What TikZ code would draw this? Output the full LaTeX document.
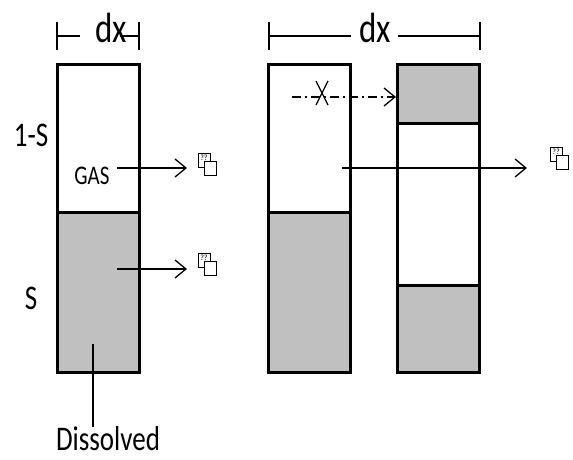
\documentclass[tikz,border=0pt]{standalone}
\usepackage{fontspec}
\setmainfont{Carlito}
\usetikzlibrary{arrows.meta}
\definecolor{phase}{HTML}{C0C0C0}
\newcommand{\tall}[1]{\scalebox{1}[1.28]{#1}}
\tikzset{
  wall/.style={line width=3pt, line cap=rect},
  thin/.style={line width=1.3pt},
  flow/.style={line width=1.3pt, -{Straight Barb[length=11pt,width=18pt,line width=1.3pt]}},
  lbl/.style={inner sep=0pt, anchor=base, font=\fontsize{27}{29}\selectfont},
  dimlbl/.style={inner sep=0pt, anchor=base, font=\fontsize{33}{35}\selectfont},
  tofu/.style={draw, line width=0.6pt, fill=white, inner sep=0pt}
}
\newcommand{\glyphbox}[2]{%
  \draw[tofu] (#1,#2) rectangle ++(12,14);
  \draw[tofu] (#1+6,#2+8) rectangle ++(12,14);
  \node[inner sep=0pt, font=\fontsize{8}{8}\selectfont] at (#1+6,#2+5) {??};
}
\begin{document}
\begin{tikzpicture}[x=1pt, y=-1pt]
  \useasboundingbox (0,0) rectangle (573,460);

  % left column: gas over dissolved phase
  \fill[phase] (57,212) rectangle (139,372);
  \draw[wall] (57,65) rectangle (139,372);
  \draw[wall] (57,212) -- (139,212);

  % middle column
  \fill[phase] (268,212) rectangle (350,372);
  \draw[wall] (268,65) rectangle (350,372);
  \draw[wall] (268,212) -- (350,212);

  % right column
  \fill[phase] (397,65) rectangle (479,123);
  \fill[phase] (397,285) rectangle (479,372);
  \draw[wall] (397,65) rectangle (479,372);
  \draw[wall] (397,123) -- (479,123);
  \draw[wall] (397,285) -- (479,285);

  % dimension marks
  \node[dimlbl] (dxa) at (111,43) {\tall{dx}};
  \draw[thin] (57,22) -- (57,50);
  \draw[thin] (139,22) -- (139,50);
  \draw[thin] (57,36) -- (80,36);
  \draw[thin] (120,36) -- (139,36);

  \node[dimlbl] (dxb) at (375,43) {\tall{dx}};
  \draw[thin] (269,22) -- (269,50);
  \draw[thin] (480,22) -- (480,50);
  \draw[thin] (269,36) -- (351,36);
  \draw[thin] (398,36) -- (480,36);

  % labels
  \node[lbl] (one) at (31,146) {\tall{1-S}};
  \node[lbl] (s) at (31,309) {\tall{S}};
  \node[inner sep=0pt, anchor=base, font=\fontsize{21}{23}\selectfont] (gas) at (92,184) {\tall{GAS}};
  \node[lbl] (dis) at (108,450) {\tall{Dissolved}};

  % flows
  \coordinate (g1) at (117,168);
  \coordinate (g2) at (187,168);
  \draw[flow] (g1) -- (g2);
  \coordinate (d1) at (117,269);
  \coordinate (d2) at (187,269);
  \draw[flow] (d1) -- (d2);
  \coordinate (m1) at (342,168);
  \coordinate (m2) at (527,168);
  \draw[flow] (m1) -- (m2);

  \glyphbox{198}{153}
  \glyphbox{198}{253}
  \glyphbox{550}{147}

  % blocked exchange
  \coordinate (b1) at (292,97);
  \coordinate (b2) at (396,97);
  \draw[flow, dash pattern=on 9pt off 4pt on 2pt off 4pt] (b1) -- (b2);
  \draw[thin] (316,81) -- (328,105);
  \draw[thin] (328,81) -- (316,105);

  % leader to label
  \coordinate (lt) at (93,344);
  \coordinate (lb) at (93,427);
  \draw[thin] (lt) -- (lb);
\end{tikzpicture}
\end{document}
